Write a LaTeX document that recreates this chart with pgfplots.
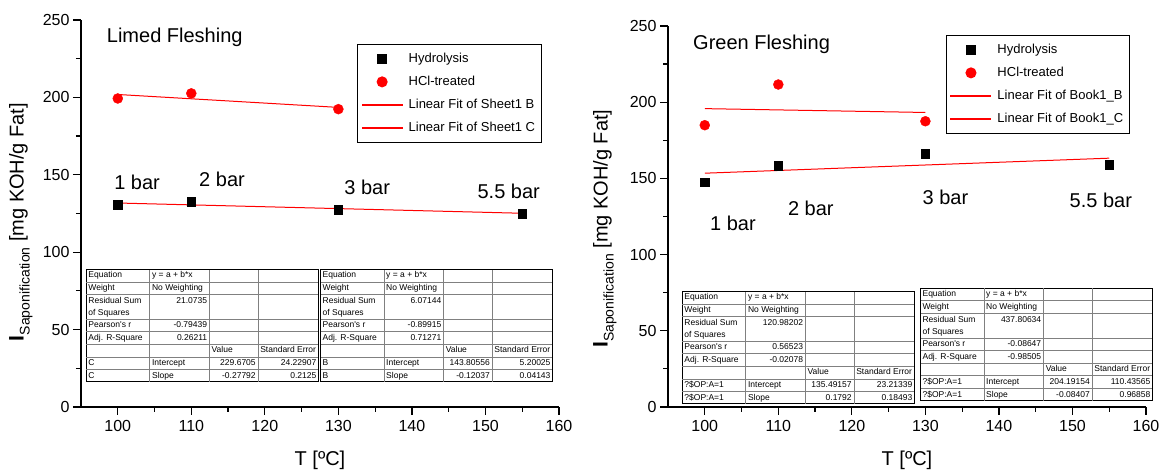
\documentclass[border=0pt]{standalone}
\usepackage{pgfplots}
\pgfplotsset{compat=1.18}
\usepackage{fontspec}
\setmainfont{Liberation Sans}
\usepackage{array}

\newcolumntype{P}[1]{>{\raggedright\arraybackslash\leavevmode\color{black}}p{#1}}
\newcommand{\fittable}[8]{%
{\fontsize{8.5}{12}\selectfont\setlength{\tabcolsep}{2pt}\setlength{\arrayrulewidth}{0.6pt}\color{gray}%
\renewcommand{\arraystretch}{1.0}%
\begin{tabular}{P{59pt}|P{55pt}|P{44pt}|P{56pt}}
Equation & y = a + b*x & & \\\hline
Weight & No Weighting & & \\\hline
Residual Sum of Squares & \hfill #2 & & \\\hline
Pearson\textquotesingle s r & \hfill #3 & & \\\hline
Adj. R-Square & \hfill #4 & & \\\hline
 & & Value & Standard Error \\\hline
#1 & Intercept & \hfill #5 & \hfill #6 \\\hline
#1 & Slope & \hfill #7 & \hfill #8 \\
\end{tabular}}}

\tikzset{
  lab/.style={anchor=west, inner sep=0pt, font=\fontsize{20}{24}\selectfont},
  tbl/.style={anchor=north west, draw=black, line width=1pt, inner sep=0pt, fill=white},
}

\pgfplotsset{
  myaxis/.style={
    scale only axis, width=478pt,
    xmin=95, xmax=160, ymin=0, ymax=250,
    axis lines*=left,
    axis line style={line width=1.2pt},
    xtick={100,110,...,160}, minor xtick={105,115,...,155},
    ytick={0,50,...,250}, minor ytick={25,75,...,225},
    tick align=outside, major tick length=8pt, minor tick length=5pt,
    every tick/.style={black, line width=1.2pt},
    tick label style={font=\fontsize{16}{19}\selectfont},
    xticklabel style={yshift=-2pt},
    /pgf/number format/assume math mode=true,
    clip=false,
    xlabel={T [ºC]},
    xlabel style={font=\fontsize{20}{24}\selectfont, yshift=-12pt},
    ylabel={{\fontsize{21}{21}\selectfont\textbf{I}}\raisebox{-6pt}{\fontsize{14}{14}\selectfont Saponification} [mg KOH/g Fat]},
    ylabel style={font=\fontsize{20}{24}\selectfont, anchor=center},
    legend cell align=left,
    legend style={anchor=north west, draw=black, line width=1pt,
      font=\fontsize{13}{15}\selectfont, inner xsep=4pt, inner ysep=7pt,
      row sep=8pt, /tikz/every odd column/.append style={column sep=4pt}},
  },
  marklegend/.style={legend image code/.code={\draw[mark repeat=2,mark phase=2,##1] plot coordinates {(0pt,0pt)(20pt,0pt)(40pt,0pt)};}},
  linelegend/.style={legend image code/.code={\fill[red] (0pt,-0.5pt) rectangle (40pt,0.5pt);}},
  hyd/.style={only marks, mark=square*, mark size=4.3pt, black, marklegend},
  hcl/.style={only marks, mark=*, mark size=5pt, red, marklegend},
  fit/.style={red, line width=1pt, no marks, linelegend},
}

\begin{document}
\begin{tikzpicture}
\path[use as bounding box] (-81pt,-63pt) rectangle (1084pt,407pt);

\begin{axis}[myaxis, height=387pt,
  legend style={at={(axis cs:132.55,234.5)}},
  ylabel style={at={(axis description cs:-0.126,0.478)}}]
\addplot[hyd] coordinates {(100,130.6) (110,132.6) (130,127.4) (155,125.0)};
\addlegendentry{Hydrolysis}
\addplot[hcl] coordinates {(100,199.3) (110,202.6) (130,192.4)};
\addlegendentry{HCl-treated}
\addplot[fit] coordinates {(100,131.77) (155,125.15)};
\addlegendentry{Linear Fit of Sheet1 B}
\addplot[fit] coordinates {(100,201.88) (130,193.54)};
\addlegendentry{Linear Fit of Sheet1 C}
\node[lab] at (axis cs:98.5,239) {Limed Fleshing};
\node[lab] at (axis cs:99.5,145.3) {1 bar};
\node[lab] at (axis cs:111.05,147.3) {2 bar};
\node[lab] at (axis cs:130.8,142) {3 bar};
\node[lab] at (axis cs:148.9,139) {5.5 bar};
\node[tbl] at (axis cs:95.68,89.1)
  {\fittable{C}{21.0735}{-0.79439}{0.26211}{229.6705}{24.22907}{-0.27792}{0.2125}};
\node[tbl] at (axis cs:127.52,89.1)
  {\fittable{B}{6.07144}{-0.89915}{0.71271}{143.80556}{5.20025}{-0.12037}{0.04143}};
\end{axis}

\begin{axis}[myaxis, height=381pt, at={(587pt,0pt)}, anchor=south west,
  legend style={at={(axis cs:132.8,244.1)}},
  ylabel style={at={(axis description cs:-0.132,0.468)}}]
\addplot[hyd] coordinates {(100,147.5) (110,158.2) (130,166.2) (155,158.8)};
\addlegendentry{Hydrolysis}
\addplot[hcl] coordinates {(100,184.9) (110,211.6) (130,187.5)};
\addlegendentry{HCl-treated}
\addplot[fit] coordinates {(100,153.41) (155,163.27)};
\addlegendentry{Linear Fit of Book1\_B}
\addplot[fit] coordinates {(100,195.78) (130,193.26)};
\addlegendentry{Linear Fit of Book1\_C}
\node[lab] at (axis cs:98.4,238) {Green Fleshing};
\node[lab] at (axis cs:100.7,120.7) {1 bar};
\node[lab] at (axis cs:111.3,130.6) {2 bar};
\node[lab] at (axis cs:129.6,137.8) {3 bar};
\node[lab] at (axis cs:149.6,135.8) {5.5 bar};
\node[tbl] at (axis cs:96.9,76.1)
  {\fittable{?\$OP:A=1}{120.98202}{0.56523}{-0.02078}{135.49157}{23.21339}{0.1792}{0.18493}};
\node[tbl] at (axis cs:129.28,78.1)
  {\fittable{?\$OP:A=1}{437.80634}{-0.08647}{-0.98505}{204.19154}{110.43565}{-0.08407}{0.96858}};
\end{axis}
\end{tikzpicture}
\end{document}
